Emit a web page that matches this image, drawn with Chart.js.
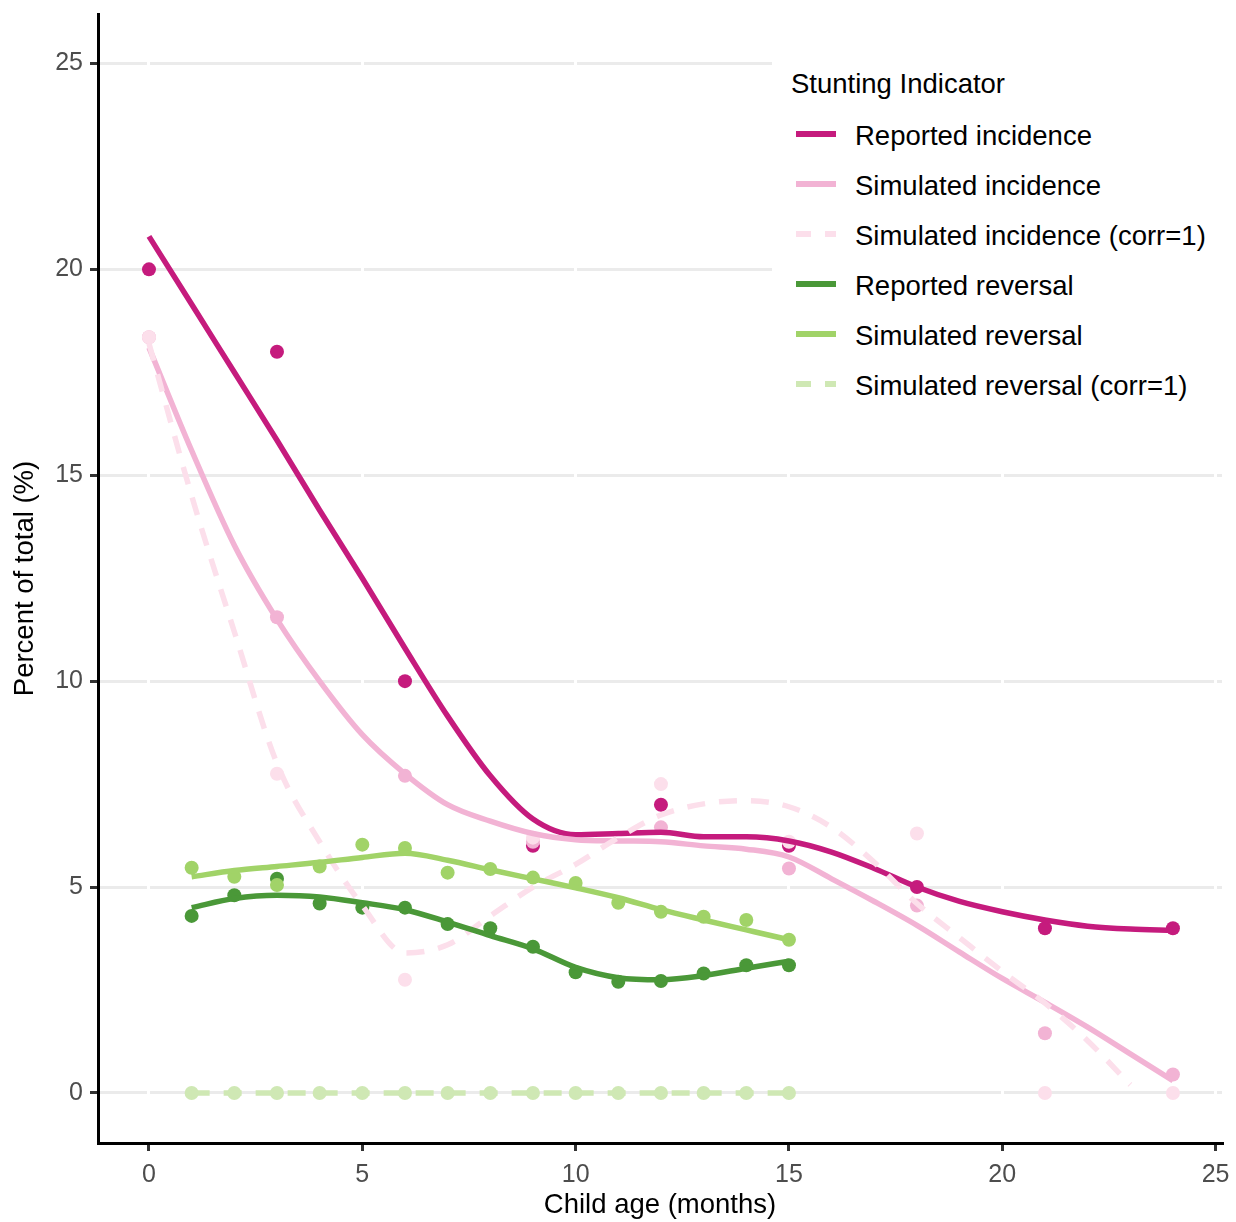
<!DOCTYPE html>
<html>
<head>
<meta charset="utf-8">
<script src="https://cdn.jsdelivr.net/npm/chart.js@4.4.1/dist/chart.umd.min.js"></script>
<style>
  body { margin: 0; background: #fff; font-family: 'Liberation Sans', Arial, sans-serif; }
  #wrap { position: relative; width: 1236px; height: 1222px; }
  #legend { position: absolute; left: 772px; top: 44px; width: 450px; height: 366px; background: #fff; }
  #legend .title, #legend .item { position: absolute; font-size: 27.5px; line-height: 32px; color: #000; white-space: nowrap; }
  #legend .key { position: absolute; height: 6px; }
</style>
</head>
<body>
<div id="wrap">
  <canvas id="chart" width="1236" height="1222"></canvas>
  <div id="legend"></div>
</div>
<script>
// ---------------- data ----------------
const xTicks = [0, 5, 10, 15, 20, 25];
const yTicks = [0, 5, 10, 15, 20, 25];

// observed points
const incidenceAges = [0, 3, 6, 9, 12, 15, 18, 21, 24];
const reportedIncidence    = [20.0, 18.0, 10.0, 6.0, 7.0, 6.0, 5.0, 4.0, 4.0];
const simulatedIncidence   = [18.35, 11.55, 7.7, 6.1, 6.45, 5.45, 4.55, 1.45, 0.45];
const simIncidenceCorr     = [18.35, 7.75, 2.75, 6.2, 7.5, 6.1, 6.3, 0, 0];

const reversalAges = [1, 2, 3, 4, 5, 6, 7, 8, 9, 10, 11, 12, 13, 14, 15];
const reportedReversal  = [4.3, 4.8, 5.2, 4.6, 4.5, 4.5, 4.1, 4.0, 3.55, 2.93, 2.7, 2.72, 2.9, 3.1, 3.1];
const simulatedReversal = [5.47, 5.25, 5.05, 5.5, 6.03, 5.95, 5.35, 5.44, 5.23, 5.1, 4.62, 4.4, 4.28, 4.2, 3.72];
const simReversalCorr   = [0, 0, 0, 0, 0, 0, 0, 0, 0, 0, 0, 0, 0, 0, 0];

// smoothed curves
const fitAges = [0, 1, 2, 3, 4, 5, 6, 7, 8, 9, 10, 11, 12, 13, 14, 15, 16, 17, 18, 19, 20, 21, 22, 23, 24];
const reportedIncidenceFit  = [20.8, 19.15, 17.5, 15.85, 14.15, 12.5, 10.8, 9.15, 7.7, 6.65, 6.27, 6.3, 6.33, 6.22, 6.22, 6.12, 5.85, 5.45, 5.0, 4.65, 4.4, 4.2, 4.05, 3.98, 3.95];
const simulatedIncidenceFit = [18.1, 15.6, 13.3, 11.5, 10.0, 8.7, 7.75, 7.0, 6.6, 6.3, 6.15, 6.12, 6.1, 6.0, 5.92, 5.73, 5.2, 4.65, 4.07, 3.42, 2.78, 2.2, 1.6, 0.95, 0.3];
const corrFitAges = [0, 1, 2, 3, 4, 5, 6, 7, 8, 9, 10, 11, 12, 13, 14, 15, 16, 17, 18, 19, 20, 21, 22, 23];
const simIncidenceCorrFit   = [18.2, 14.5, 11.2, 8.0, 6.1, 4.55, 3.4, 3.6, 4.3, 5.0, 5.55, 6.2, 6.75, 7.02, 7.1, 6.95, 6.45, 5.6, 4.6, 3.77, 2.95, 2.18, 1.27, 0.2];
const reportedReversalFit   = [4.5, 4.72, 4.8, 4.76, 4.62, 4.45, 4.15, 3.82, 3.5, 3.05, 2.8, 2.75, 2.85, 3.03, 3.2];
const simulatedReversalFit  = [5.25, 5.4, 5.5, 5.6, 5.72, 5.82, 5.65, 5.42, 5.2, 4.98, 4.74, 4.45, 4.2, 3.96, 3.72];
const simReversalCorrFit    = [0, 0, 0, 0, 0, 0, 0, 0, 0, 0, 0, 0, 0, 0, 0];

// ---------------- series ----------------
const series = [
  { label: 'Reported incidence',             color: '#c51b7d', dash: [],       ages: incidenceAges, pts: reportedIncidence,  fitX: fitAges,      fit: reportedIncidenceFit },
  { label: 'Simulated incidence',            color: '#f2b3d4', dash: [],       ages: incidenceAges, pts: simulatedIncidence, fitX: fitAges,      fit: simulatedIncidenceFit },
  { label: 'Simulated incidence (corr=1)',   color: '#fcdfeb', dash: [18, 14], ages: incidenceAges, pts: simIncidenceCorr,   fitX: corrFitAges,  fit: simIncidenceCorrFit },
  { label: 'Reported reversal',              color: '#4a9838', dash: [],       ages: reversalAges,  pts: reportedReversal,   fitX: reversalAges, fit: reportedReversalFit },
  { label: 'Simulated reversal',             color: '#a1d368', dash: [],       ages: reversalAges,  pts: simulatedReversal,  fitX: reversalAges, fit: simulatedReversalFit },
  { label: 'Simulated reversal (corr=1)',    color: '#cfe8b4', dash: [18, 14], ages: reversalAges,  pts: simReversalCorr,    fitX: reversalAges, fit: simReversalCorrFit }
];

const toXY = (xs, ys) => xs.map((x, i) => ({ x: x, y: ys[i] }));

// paint order: all points first, then all fitted lines (later = on top)
const layers = [];
series.forEach((s) => {
  layers.push({
    data: toXY(s.ages, s.pts),
    showLine: false,
    pointRadius: 7,
    pointBorderWidth: 0,
    pointBackgroundColor: s.color,
    borderColor: s.color
  });
});
series.forEach((s) => {
  layers.push({
    data: toXY(s.fitX, s.fit),
    borderColor: s.color,
    borderWidth: 5.5,
    borderDash: s.dash,
    borderCapStyle: 'butt',
    pointRadius: 0,
    cubicInterpolationMode: 'monotone',
    fill: false
  });
});
const datasets = layers.map((d, k) => Object.assign(d, { order: layers.length - k }));

// ---------------- chart ----------------
Chart.defaults.font.family = "'Liberation Sans', Arial, sans-serif";

new Chart(document.getElementById('chart'), {
  type: 'line',
  data: { datasets: datasets },
  options: {
    responsive: false,
    animation: false,
    events: [],
    layout: { padding: { top: 14, right: 14, left: 0, bottom: 0 } },
    plugins: { legend: { display: false }, tooltip: { enabled: false } },
    scales: {
      x: {
        type: 'linear',
        min: -1.195, max: 25.15,
        afterFit: (s) => { s.height = 79; s.paddingLeft = 0; s.paddingRight = 0; },
        afterBuildTicks: (s) => { s.ticks = xTicks.map((v) => ({ value: v })); },
        grid: { color: '#ffffff', lineWidth: 3, z: -1, drawTicks: true, tickLength: 8, tickColor: '#333', tickWidth: 3 },
        border: { display: true, color: '#000', width: 3 },
        ticks: { color: '#4d4d4d', font: { size: 25 }, padding: 9, maxRotation: 0 },
        title: { display: true, text: 'Child age (months)', color: '#000', font: { size: 27.5 }, padding: { top: 0, bottom: 0 } }
      },
      y: {
        type: 'linear',
        min: -1.215, max: 26.2,
        afterFit: (s) => { s.width = 98; s.paddingTop = 0; s.paddingBottom = 0; },
        afterBuildTicks: (s) => { s.ticks = yTicks.map((v) => ({ value: v })); },
        grid: { color: '#ebebeb', lineWidth: 3, z: -2, drawTicks: true, tickLength: 8, tickColor: '#333', tickWidth: 3 },
        border: { display: true, color: '#000', width: 3 },
        ticks: { color: '#4d4d4d', font: { size: 25 }, padding: 7 },
        title: { display: true, text: 'Percent of total (%)', color: '#000', font: { size: 27.5 }, padding: { top: 9, bottom: 0 } }
      }
    }
  }
});

// ---------------- legend (html) ----------------
const legend = document.getElementById('legend');
const offX = 772, offY = 44;
function addText(cls, text, x, top) {
  const el = document.createElement('div');
  el.className = cls;
  el.textContent = text;
  el.style.left = (x - offX) + 'px';
  el.style.top = (top - offY) + 'px';
  legend.appendChild(el);
}
function addKey(color, x0, x1, cy) {
  const el = document.createElement('div');
  el.className = 'key';
  el.style.background = color;
  el.style.left = (x0 - offX) + 'px';
  el.style.width = (x1 - x0) + 'px';
  el.style.top = (cy - 3 - offY) + 'px';
  legend.appendChild(el);
}
addText('title', 'Stunting Indicator', 791, 67.5);
series.forEach((s, i) => {
  const cy = 134 + i * 50;
  if (s.dash.length) {
    addKey(s.color, 796, 811, cy);
    addKey(s.color, 825, 836, cy);
  } else {
    addKey(s.color, 796, 836, cy);
  }
  addText('item', s.label, 855, 119.5 + i * 50);
});
</script>
</body>
</html>
